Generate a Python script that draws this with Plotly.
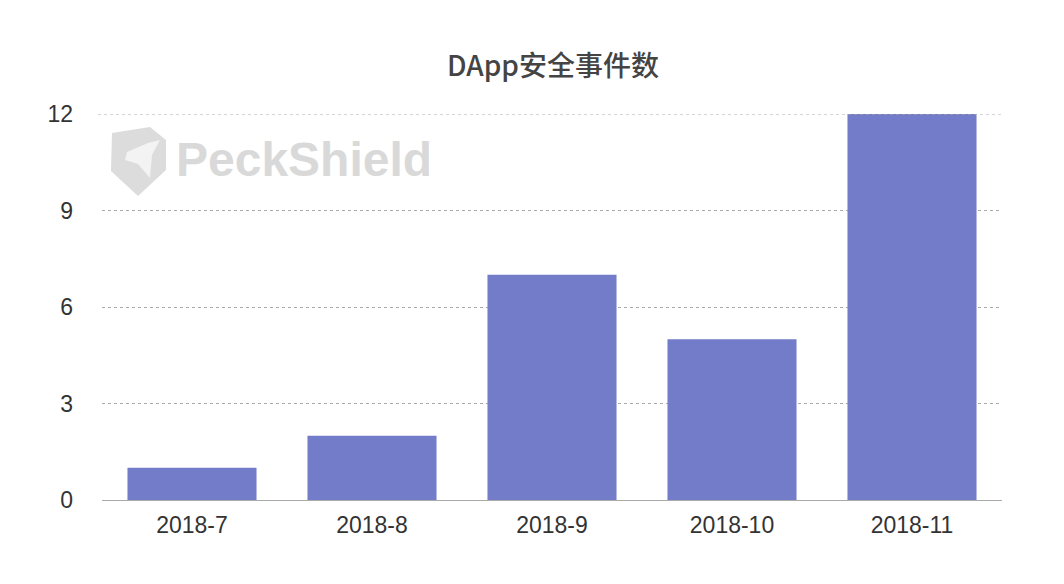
import plotly.graph_objects as go

categories = ["2018-7", "2018-8", "2018-9", "2018-10", "2018-11"]
values = [1, 2, 7, 5, 12]
y_ticks = [0, 3, 6, 9, 12]

fig = go.Figure()
fig.add_trace(go.Bar(x=categories, y=values, marker=dict(color="#727cc8", line=dict(width=0)),
                     hoverinfo="x+y"))

OFF = 8  # default page body margin
W, H = 1056, 576
L, R, T, B = 102 - OFF, W + OFF - 1002, 114 - OFF, H + OFF - 500
pw, ph = W - L - R, H - T - B

def px(x):
    return (x - OFF - L) / pw

def py(y):
    return (H + OFF - B - y) / ph

# watermark shield
shield = [(112, 133), (150, 127), (166, 140), (166, 170), (138, 196), (111, 171)]
path = "M " + " L ".join(f"{px(a):.4f},{py(b):.4f}" for a, b in shield) + " Z"
fig.add_shape(type="path", path=path, xref="paper", yref="paper",
              fillcolor="#dcdcdc", line=dict(width=0), layer="below")
bird = [(127, 152), (148, 143), (160, 140), (152, 155), (150, 178), (138, 164), (125, 160)]
path2 = "M " + " L ".join(f"{px(a):.4f},{py(b):.4f}" for a, b in bird) + " Z"
fig.add_shape(type="path", path=path2, xref="paper", yref="paper",
              fillcolor="#f3f3f3", line=dict(width=0), layer="below")
fig.add_annotation(text="<b>PeckShield</b>", xref="paper", yref="paper",
                   x=px(174), y=py(159), xanchor="left", yanchor="middle", showarrow=False,
                   font=dict(family="Liberation Sans", size=48, color="#d9d9d9"))

# top gridline at the edge of the range (plotly does not draw it)
fig.add_shape(type="line", xref="paper", yref="y", x0=px(98), x1=1, y0=y_ticks[-1], y1=y_ticks[-1],
              line=dict(color="#aaaaaa", width=1, dash="dot"), layer="above")

fig.update_layout(
    width=W, height=H,
    margin=dict(l=L, r=R, t=T, b=B),
    paper_bgcolor="white", plot_bgcolor="white",
    title=dict(text="DApp安全事件数", x=(553 - OFF) / W, xanchor="center",
               y=1 - (66 - OFF) / H, yanchor="middle",
               font=dict(family="Noto Sans CJK SC", size=28, color="#444444", weight=500)),
    bargap=0.283,
    showlegend=False,
    font=dict(family="Liberation Sans, Arial", size=23, color="#333333"),
    xaxis=dict(type="category", showgrid=False, showline=True, linecolor="#aaaaaa", linewidth=1,
               ticks="", ticklabelstandoff=4, tickfont=dict(size=23, color="#333333")),
    yaxis=dict(range=[0, 12], tickvals=y_ticks, showgrid=True, gridcolor="#aaaaaa",
               griddash="dot", gridwidth=1, zeroline=False, showline=False,
               ticks="", ticklabelstandoff=28, layer="above traces",
               tickfont=dict(size=23, color="#333333")),
)

fig.write_html("out.html")
